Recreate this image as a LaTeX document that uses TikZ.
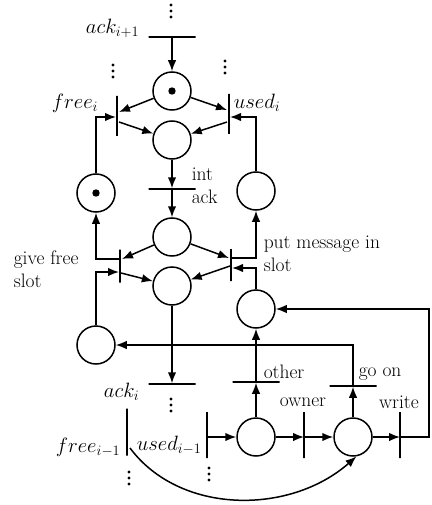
\documentclass[tikz,border=0pt]{standalone}
\usetikzlibrary{arrows.meta,calc}
\begin{document}
\begin{tikzpicture}[x=1pt,y=-1pt,line width=1.5pt,
  >={Latex[length=11pt,width=8.5pt]},
  place/.style={circle,draw,minimum size=38pt,inner sep=0pt},
  hbar/.style={draw,rectangle,minimum width=47pt,minimum height=0pt,inner sep=0pt},
  vbar/.style={draw,rectangle,minimum height=#1,minimum width=0pt,inner sep=0pt},
  lbl/.style={font=\fontsize{19.5}{23}\selectfont,inner sep=0pt}]
\useasboundingbox (0,0) rectangle (431,505);
% places
\node[place] (p1) at (172,91) {};
\node[place] (p2) at (172,140) {};
\node[place] (pf) at (96,193) {};
\node[place] (pu) at (256,191) {};
\node[place] (p3) at (172,237) {};
\node[place] (p4) at (172,286) {};
\node[place] (pl) at (96,345) {};
\node[place] (pr) at (256,309) {};
\node[place] (pa) at (256,437) {};
\node[place] (pb) at (353,437) {};
\fill (p1) circle (3.7pt);
\fill (pf) circle (3.7pt);
% transitions
\node[hbar] (acki1) at (172,37) {};
\node[vbar=40pt] (freei) at (117,116) {};
\node[vbar=40pt] (usedi) at (229,114) {};
\node[hbar] (intack) at (172,189) {};
\node[vbar=33pt] (give) at (120,266) {};
\node[vbar=32pt] (put) at (231,265) {};
\node[hbar] (acki) at (172,384) {};
\node[hbar] (other) at (256,382) {};
\node[hbar] (goon) at (353,386) {};
\node[vbar=46pt] (owner) at (304,435) {};
\node[vbar=46pt] (write) at (400,435) {};
\node[vbar=46pt] (usedim1) at (207,435) {};
\node[vbar=47pt] (freeim1) at (127,432) {};
% labels
\node[lbl,anchor=east] (tacki1) at (140,28) {$ack_{i+1}$};
\node[lbl] (tfreei) at (75,103) {$free_i$};
\node[lbl] (tusedi) at (257,103) {$used_i$};
\node[lbl,anchor=west,align=left] (tintack) at (191,186) {int\\ack};
\node[lbl,anchor=west,align=left] (tgive) at (13,269) {give free\\slot};
\node[lbl,anchor=west,align=left] (tput) at (263,254) {put message in\\slot};
\node[lbl,anchor=east] (tacki) at (140,392) {$ack_i$};
\node[lbl,anchor=west] (tother) at (263,372) {other};
\node[lbl,anchor=west] (tgoon) at (358,374) {go on};
\node[lbl] (towner) at (303,402) {owner};
\node[lbl] (twrite) at (399,402) {write};
\node[lbl,anchor=east] (tfreeim1) at (121,447) {$free_{i-1}$};
\node[lbl,anchor=west] (tusedim1) at (136,445) {$used_{i-1}$};
% ellipsis dots
\foreach \x/\y in {171/5,113/65,225/61,171/399,129/472,209/468}
  \foreach \k in {0,1,2}
    \fill (\x,{\y+6*\k}) circle (1.7pt);
% arcs
\draw[->] (acki1) -- (p1);
\draw[->] (p1) -- ($(freei)+(2,-4)$);
\draw[->] (p1) -- ($(usedi)+(-2,-4)$);
\draw[->] ($(freei)+(2,6)$) -- (p2);
\draw[->] ($(usedi)+(-2,8)$) -- (p2);
\draw[->] (pf) |- ($(freei)+(-1,1)$);
\draw[->] (pu) |- ($(usedi)+(1,3)$);
\draw[->] (p2) -- (intack);
\draw[->] (intack) -- (p3);
\draw[->] (p3) -- ($(give)+(2,-7)$);
\draw[->] (p3) -- ($(put)+(-2,-7)$);
\draw[->] ($(give)+(1,7)$) -- (p4);
\draw[->] ($(put)+(-1,1)$) -- (p4);
\draw[->] ($(give)+(0,-7)$) -| (pf);
\draw[->] ($(put)+(0,-7)$) -| (pu);
\draw[->] (pl) |- ($(give)+(-1,6)$);
\draw[->] (pr) |- ($(put)+(1,3)$);
\draw[->] (p4) -- (acki);
\draw[->] ($(write)+(0,2)$) -- ++(29,0) |- (pr);
\draw[->] (goon) |- (pl);
\draw[->] (pa) -- (other);
\draw[->] (other) -- (pr);
\draw[->] (pb) -- (goon);
\draw[->] ($(usedim1)+(0,2)$) -- (pa);
\draw[->] (pa) -- ($(owner)+(0,2)$);
\draw[->] ($(owner)+(0,2)$) -- (pb);
\draw[->] (pb) -- ($(write)+(0,2)$);
\draw[->] ($(freeim1)+(3,16)$) .. controls (180,515) and (290,515) .. (pb.-80);
\end{tikzpicture}
\end{document}
